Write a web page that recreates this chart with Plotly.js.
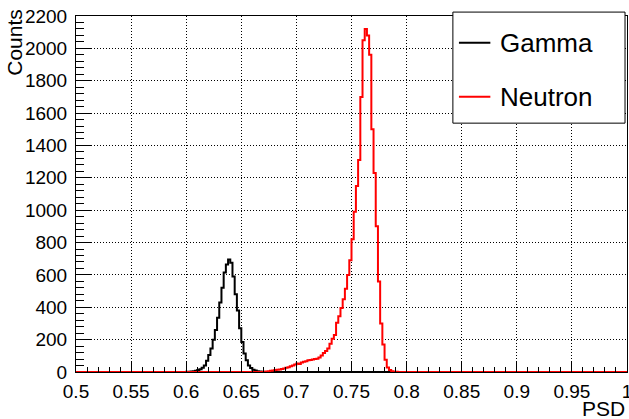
<!DOCTYPE html>
<html>
<head>
<meta charset="utf-8">
<script src="https://cdn.plot.ly/plotly-3.0.1.min.js"></script>
<style>html,body{margin:0;padding:0;background:#fff;}#chart{width:629px;height:419px;}</style>
</head>
<body>
<div id="chart"></div>
<script>
// ---- data ----
const binWidth = 0.002;
const xMin = 0.5;
const xMax = 1.0;

const gammaStart = 0.600;
const gammaCounts = [1, 2, 3, 5, 8, 12, 17, 26, 40, 70,
  105, 145, 200, 260, 335, 430, 520, 615, 665, 695,
  675, 590, 480, 380, 270, 185, 115, 72, 40, 25,
  14, 9, 5, 3, 1];

const neutronStart = 0.670;
const neutronCounts = [2, 3, 5, 7, 10, 12, 14, 16, 19, 22,
  26, 30, 35, 40, 47, 53, 50, 58, 63, 66,
  72, 74, 77, 80, 82, 90, 102, 118, 130, 145,
  175, 205, 228, 305, 345, 395, 450, 515, 600, 690,
  820, 990, 1150, 1310, 1700, 2050, 2120, 2080, 1960, 1500,
  1230, 900, 560, 300, 170, 75, 28, 12, 5, 2, 1];

const seriesNames = ['Gamma', 'Neutron'];
const seriesColors = ['#000000', '#ff0000'];

const xTickVals = [0.5, 0.55, 0.6, 0.65, 0.7, 0.75, 0.8, 0.85, 0.9, 0.95, 1];
const xTickText = ['0.5', '0.55', '0.6', '0.65', '0.7', '0.75', '0.8', '0.85', '0.9', '0.95', '1'];
const yTickVals = [0, 200, 400, 600, 800, 1000, 1200, 1400, 1600, 1800, 2000, 2200];
const yTickText = ['0', '200', '400', '600', '800', '1000', '1200', '1400', '1600', '1800', '2000', '2200'];

// ---- build step outlines over the full axis range ----
function histLine(start, counts) {
  const n = Math.round((xMax - xMin) / binWidth);
  const full = new Array(n).fill(0);
  const off = Math.round((start - xMin) / binWidth);
  counts.forEach((c, i) => { full[off + i] = c; });
  const x = [], y = [];
  for (let i = 0; i < n; i++) { x.push(xMin + i * binWidth); y.push(full[i]); }
  x.push(xMax); y.push(full[n - 1]);
  return {x, y};
}

const g = histLine(gammaStart, gammaCounts);
const nt = histLine(neutronStart, neutronCounts);

const FONT = 'Liberation Sans, Arial, sans-serif';

const traces = [
  {x: g.x, y: g.y, type: 'scatter', mode: 'lines', line: {shape: 'hv', color: seriesColors[0], width: 2}, name: seriesNames[0], showlegend: false},
  {x: nt.x, y: nt.y, type: 'scatter', mode: 'lines', line: {shape: 'hv', color: seriesColors[1], width: 2}, name: seriesNames[1], showlegend: false}
];

// legend box drawn in paper coords
const legBox = {x0: 0.684, x1: 0.9964, y0: 0.699, y1: 1.011};
const legRows = [0.925, 0.773];

const shapes = [
  {type: 'rect', xref: 'paper', yref: 'paper', x0: legBox.x0, x1: legBox.x1, y0: legBox.y0, y1: legBox.y1,
   line: {color: '#000', width: 1}, fillcolor: '#fff', layer: 'above'}
];
const annotations = [];
seriesNames.forEach((nm, i) => {
  shapes.push({type: 'line', xref: 'paper', yref: 'paper', x0: 0.695, x1: 0.752, y0: legRows[i], y1: legRows[i],
    line: {color: seriesColors[i], width: 2}, layer: 'above'});
  annotations.push({xref: 'paper', yref: 'paper', x: 0.765, y: legRows[i], xanchor: 'left', yanchor: 'middle',
    text: nm, showarrow: false, font: {family: FONT, size: 26, color: '#000'}});
});
annotations.push({xref: 'paper', yref: 'paper', x: -0.111, y: 1.027, xanchor: 'center', yanchor: 'top',
  textangle: -90, text: 'Counts', showarrow: false, font: {family: FONT, size: 21, color: '#000'}});
annotations.push({xref: 'paper', yref: 'paper', x: 1.0, y: -0.103, xanchor: 'right', yanchor: 'middle',
  text: 'PSD', showarrow: false, font: {family: FONT, size: 21, color: '#000'}});

const layout = {
  width: 629, height: 419,
  margin: {l: 76, r: 2, t: 16, b: 47, pad: 0},
  paper_bgcolor: '#fff', plot_bgcolor: '#fff',
  font: {family: FONT, size: 19, color: '#000'},
  showlegend: false,
  xaxis: {
    range: [xMin, xMax], tickmode: 'array', tickvals: xTickVals, ticktext: xTickText,
    ticks: 'inside', ticklen: 11, tickwidth: 1, tickcolor: '#000',
    showline: true, linecolor: '#000', linewidth: 1, mirror: true,
    showgrid: true, gridcolor: '#000', gridwidth: 1, griddash: '1px,2px',
    zeroline: false, ticklabelstandoff: 2, ticklabeloverflow: 'allow',
    minor: {ticks: 'inside', dtick: 0.01, ticklen: 5, tickcolor: '#000', showgrid: false},
    tickfont: {family: FONT, size: 19, color: '#000'}
  },
  yaxis: {
    range: [0, 2200], tickmode: 'array', tickvals: yTickVals, ticktext: yTickText,
    ticks: 'inside', ticklen: 16, tickwidth: 1, tickcolor: '#000',
    showline: true, linecolor: '#000', linewidth: 1, mirror: true,
    showgrid: true, gridcolor: '#000', gridwidth: 1, griddash: '1px,2px',
    zeroline: false, ticklabelstandoff: 4,
    minor: {ticks: 'inside', dtick: 40, ticklen: 8, tickcolor: '#000', showgrid: false},
    tickfont: {family: FONT, size: 19, color: '#000'}
  },
  shapes: shapes,
  annotations: annotations
};

Plotly.newPlot('chart', traces, layout, {displayModeBar: false, staticPlot: true});
</script>
</body>
</html>
